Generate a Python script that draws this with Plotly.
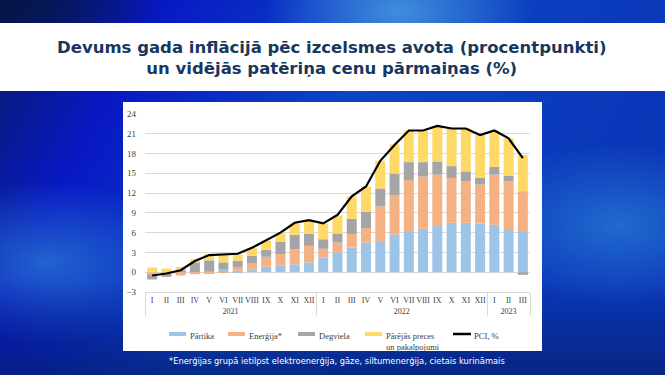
import base64
import plotly.graph_objects as go

# ---------------- data ----------------
months = ["I", "II", "III", "IV", "V", "VI", "VII", "VIII", "IX", "X", "XI", "XII",
          "I", "II", "III", "IV", "V", "VI", "VII", "VIII", "IX", "X", "XI", "XII",
          "I", "II", "III"]
years = ["2021"] * 12 + ["2022"] * 12 + ["2023"] * 3

partika = [0.0, 0.0, 0.05, 0.05, 0.15, 0.4, 0.25, 0.45, 0.85, 1.0, 1.2, 1.5,
           2.2, 3.0, 3.75, 4.5, 4.6, 5.7, 6.25, 6.6, 7.0, 7.5, 7.5, 7.4,
           7.2, 6.4, 6.1]
energija = [-0.3, -0.2, -0.5, -0.3, -0.25, -0.1, 0.55, 0.95, 1.5, 1.75, 2.3, 2.5,
            1.35, 1.5, 2.05, 2.2, 5.4, 6.0, 7.75, 7.9, 7.8, 6.8, 6.3, 5.9,
            7.6, 7.4, 6.2]
degviela = [-0.8, -0.5, 0.25, 1.45, 1.65, 1.1, 0.95, 1.1, 1.05, 1.85, 2.2, 1.8,
            1.45, 1.4, 2.3, 2.5, 2.7, 3.25, 2.7, 2.2, 2.0, 1.8, 1.5, 1.0,
            1.2, 0.8, -0.4]
parejas = [0.7, 0.55, 0.5, 0.45, 0.9, 1.1, 0.95, 1.2, 1.4, 1.3, 1.7, 2.0,
           2.4, 2.7, 3.4, 3.8, 4.2, 4.45, 4.8, 4.8, 5.4, 5.7, 6.5, 6.5,
           5.5, 5.7, 5.5]
pci = [-0.5, -0.2, 0.3, 1.7, 2.6, 2.7, 2.8, 3.7, 4.8, 6.0, 7.5, 7.9,
       7.4, 8.7, 11.5, 13.0, 16.9, 19.3, 21.5, 21.5, 22.2, 21.8, 21.8, 20.8,
       21.5, 20.3, 17.3]

series_names = ["Pārtika", "Enerģija*", "Degviela", "Pārējās preces<br>un pakalpojumi"]
series_values = [partika, energija, degviela, parejas]
series_colors = ["#9DC3E6", "#F4B183", "#A5A5A5", "#FFD966"]
line_name = "PCI, %"

title_text = ("<b>Devums gada inflācijā pēc izcelsmes avota (procentpunkti)<br>"
              "un vidējās patēriņa cenu pārmaiņas (%)</b>")
footnote = "*Enerģijas grupā ietilpst elektroenerģija, gāze, siltumenerģija, cietais kurināmais"

# ---------------- layout geometry ----------------
W, H = 665, 375
L, R, T, B = 145, 135, 114, 83
pw, ph = W - L - R, H - T - B


def px_x(x):
    return (x - L) / pw


def px_y(y):
    return (H - B - y) / ph


# background gradient (svg)
svg = f"""<svg xmlns='http://www.w3.org/2000/svg' width='{W}' height='{H}' viewBox='0 0 {W} {H}'>
<defs>
<linearGradient id='g' x1='0' y1='0' x2='1' y2='0.3'>
<stop offset='0' stop-color='#061c66'/>
<stop offset='0.22' stop-color='#0818c4'/>
<stop offset='0.55' stop-color='#0b45c4'/>
<stop offset='1' stop-color='#0a36b8'/>
</linearGradient>
<radialGradient id='r1' cx='0.6' cy='0.03' r='0.2'>
<stop offset='0' stop-color='#4a9ae0' stop-opacity='0.85'/>
<stop offset='1' stop-color='#4a9ae0' stop-opacity='0'/>
</radialGradient>
<radialGradient id='r2' cx='0.07' cy='0.7' r='0.22'>
<stop offset='0' stop-color='#2a7ad0' stop-opacity='0.75'/>
<stop offset='1' stop-color='#2a7ad0' stop-opacity='0'/>
</radialGradient>
<radialGradient id='r3' cx='0.93' cy='0.6' r='0.22'>
<stop offset='0' stop-color='#2a80d8' stop-opacity='0.7'/>
<stop offset='1' stop-color='#2a80d8' stop-opacity='0'/>
</radialGradient>
<radialGradient id='r4' cx='0.0' cy='0.0' r='0.25'>
<stop offset='0' stop-color='#051440' stop-opacity='0.9'/>
<stop offset='1' stop-color='#051440' stop-opacity='0'/>
</radialGradient>
<linearGradient id='bt' x1='0' y1='0' x2='0' y2='1'>
<stop offset='0.75' stop-color='#041a60' stop-opacity='0'/>
<stop offset='1' stop-color='#041a60' stop-opacity='0.6'/>
</linearGradient>
</defs>
<rect width='{W}' height='{H}' fill='url(#g)'/>
<rect width='{W}' height='{H}' fill='url(#r1)'/>
<rect width='{W}' height='{H}' fill='url(#r2)'/>
<rect width='{W}' height='{H}' fill='url(#r3)'/>
<rect width='{W}' height='{H}' fill='url(#r4)'/>
<rect width='{W}' height='{H}' fill='url(#bt)'/>
</svg>"""
svg_uri = "data:image/svg+xml;base64," + base64.b64encode(svg.encode()).decode()

fig = go.Figure()

for name, vals, col in zip(series_names, series_values, series_colors):
    fig.add_trace(go.Bar(x=[years, months], y=vals, name=name.replace("<br>", " "),
                         marker=dict(color=col, line=dict(width=0))))

fig.add_trace(go.Scatter(x=[years, months], y=pci, name=line_name, mode="lines",
                         line=dict(color="#000000", width=2.2)))

serif = "Liberation Serif, Times New Roman, serif"
sans = "DejaVu Sans, Verdana, sans-serif"
txt_col = "#404040"

shapes = [
    dict(type="rect", xref="paper", yref="paper", x0=px_x(0), x1=px_x(W),
         y0=px_y(91), y1=px_y(23), fillcolor="white", line=dict(width=0), layer="below"),
    dict(type="rect", xref="paper", yref="paper", x0=px_x(123), x1=px_x(542),
         y0=px_y(351), y1=px_y(102), fillcolor="white", line=dict(width=0), layer="below"),
]
annotations = [
    dict(text=title_text, xref="paper", yref="paper", x=px_x(332), y=px_y(58),
         xanchor="center", yanchor="middle", showarrow=False,
         font=dict(family=sans, size=16.5, color="#17375E")),
    dict(text=footnote, xref="paper", yref="paper", x=px_x(337), y=px_y(361),
         xanchor="center", yanchor="middle", showarrow=False,
         font=dict(family=sans, size=8.3, color="#FFFFFF")),
]

# legend (drawn as keys + labels below the axis)
leg_x = [169, 228, 298, 365, 453]
leg_y = 334
for i, (name, col) in enumerate(zip(series_names + [line_name], series_colors + ["#000000"])):
    x0 = leg_x[i]
    if i < 4:
        shapes.append(dict(type="rect", xref="paper", yref="paper",
                           x0=px_x(x0), x1=px_x(x0 + 17), y0=px_y(leg_y + 2), y1=px_y(leg_y - 2),
                           fillcolor=col, line=dict(width=0)))
    else:
        shapes.append(dict(type="line", xref="paper", yref="paper",
                           x0=px_x(x0), x1=px_x(x0 + 18), y0=px_y(leg_y), y1=px_y(leg_y),
                           line=dict(color=col, width=2.5)))
    annotations.append(dict(text=name, xref="paper", yref="paper",
                            x=px_x(x0 + 19), y=px_y(leg_y - 5.5), xanchor="left", yanchor="top",
                            align="left", showarrow=False,
                            font=dict(family=serif, size=8.5, color=txt_col)))

fig.update_layout(
    width=W, height=H,
    margin=dict(l=L, r=R, t=T, b=B, autoexpand=False),
    barmode="relative",
    bargap=0.3,
    paper_bgcolor="#0a36b8",
    plot_bgcolor="rgba(0,0,0,0)",
    font=dict(family=serif, size=9, color=txt_col),
    showlegend=False,
    images=[dict(source=svg_uri, xref="paper", yref="paper",
                 x=px_x(0), y=px_y(0), sizex=W / pw, sizey=H / ph,
                 xanchor="left", yanchor="top", sizing="stretch", layer="below")],
    shapes=shapes,
    annotations=annotations,
)

fig.update_xaxes(
    type="multicategory", automargin=False, tickangle=0,
    showline=True, linecolor="#D9D9D9", linewidth=1,
    showdividers=True, dividercolor="#D9D9D9", dividerwidth=1,
    ticks="", tickfont=dict(family=serif, size=8, color=txt_col),
    showgrid=False,
)
fig.update_yaxes(
    range=[-3, 24], dtick=3, tick0=0, automargin=False,
    showgrid=True, gridcolor="#D9D9D9", gridwidth=1,
    zeroline=False, showline=False,
    ticks="", ticklabelstandoff=8,
    tickfont=dict(family=serif, size=9, color=txt_col),
)

fig.write_html("out.html", config={"displayModeBar": False},
               post_script="document.body.style.margin='0';document.body.style.overflow='hidden';")
